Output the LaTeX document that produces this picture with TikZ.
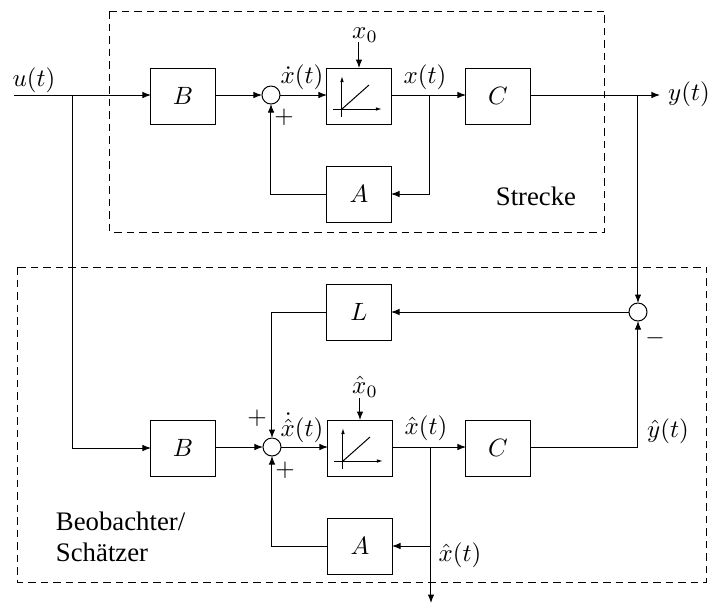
\documentclass[tikz,border=0pt]{standalone}
\usepackage{amsmath,amssymb}
\usepackage{fontspec}
\setmainfont{Liberation Serif}
\usetikzlibrary{arrows.meta,calc}
\tikzset{
  block/.style={draw,minimum width=25.6pt,minimum height=22.4pt,inner sep=0pt,outer sep=0pt},
  sumnode/.style={draw,circle,minimum size=7.2pt,inner sep=0pt,outer sep=0pt},
  sig/.style={-{Latex[length=3.4pt,width=2.6pt]}},
  axis/.style={-{Latex[length=2.4pt,width=1.4pt]},thin},
  frame/.style={dash pattern=on 3pt off 2pt,thin},
  lbl/.style={inner sep=0pt,outer sep=0pt},
  txt/.style={lbl,font=\fontsize{10.7}{12.4}\selectfont}
}
\newcommand{\rampicon}[1]{%
  \draw[axis] ($(#1)+(-17,21)$) -- ($(#1)+(-17,-20)$);
  \draw[axis] ($(#1)+(-26,13)$) -- ($(#1)+(23,13)$);
  \draw[thin] ($(#1)+(-17,13)$) -- ($(#1)+(10,-11)$);
}
\begin{document}
\begin{tikzpicture}[x=0.4pt,y=-0.4pt]
  \useasboundingbox (0,0) rectangle (709,603);
  % frames
  \draw[frame] (110,11) rectangle (605,232);
  \draw[frame] (18,267) rectangle (707,582);
  % plant
  \node[block] (bup) at (183,96) {$B$};
  \node[sumnode] (sumup) at (271,95) {};
  \node[block] (intup) at (359,96) {};
  \node[block] (cup) at (498,96) {$C$};
  \node[block] (aup) at (359,194) {$A$};
  \rampicon{intup}
  % observer
  \node[block] (llow) at (359,312) {$L$};
  \node[sumnode] (sumy) at (638,312) {};
  \node[block] (blow) at (183,448) {$B$};
  \node[sumnode] (sumlow) at (272,447) {};
  \node[block] (intlow) at (360,448) {};
  \node[block] (clow) at (498,448) {$C$};
  \node[block] (alow) at (360,546) {$A$};
  \rampicon{intlow}
  % free ends and branch points
  \coordinate (uin) at (14,95);
  \coordinate (ubr) at (73,95);
  \coordinate (xbrup) at (430,95);
  \coordinate (ybr) at (638,95);
  \coordinate (yout) at (660,95);
  \coordinate (xbrlow) at (431,447);
  \coordinate (xout) at (431,603);
  % labels
  \node[lbl] (ulab) at (34,80) {$u(t)$};
  \node[lbl] (xnull) at (365,35) {$x_0$};
  \node[lbl] (xdot) at (302,77) {$\dot{x}(t)$};
  \node[lbl] (xlab) at (425,77) {$x(t)$};
  \node[lbl] (ylab) at (689,94) {$y(t)$};
  \node[lbl] (plusa) at (284,117) {$+$};
  \node[txt] (strecke) at (536,196) {Strecke};
  \node[lbl] (xhnull) at (365,387) {$\hat{x}_0$};
  \node[lbl] (xhdot) at (302,428) {$\dot{\hat{x}}(t)$};
  \node[lbl] (xhlab) at (426,428) {$\hat{x}(t)$};
  \node[lbl] (yhlab) at (668,431) {$\hat{y}(t)$};
  \node[lbl] (xhout) at (460,555) {$\hat{x}(t)$};
  \node[lbl] (plusb) at (257,418) {$+$};
  \node[lbl] (plusc) at (285,470) {$+$};
  \node[lbl] (minus) at (655,338) {$-$};
  \node[txt,align=left,anchor=west] (beob) at (56,537) {Beobachter/\\Schätzer};
  % plant signals
  \draw[sig] (uin) -- (ubr) -- (uin -| bup.west);
  \draw[sig] (bup.east |- sumup) -- (sumup);
  \draw[sig] (sumup) -- (intup.west |- sumup);
  \draw[sig] (xnull.south -| intup) -- (intup.north);
  \draw[sig] (intup.east |- xbrup) -- (cup.west |- xbrup);
  \draw[sig] (xbrup) |- (aup.east);
  \draw[sig] (aup.west) -| (sumup.south);
  \draw[sig] (cup.east |- yout) -- (yout);
  % observer signals
  \draw[sig] (ybr) -- (sumy);
  \draw[sig] (sumy) -- (llow.east);
  \draw[sig] (llow.west) -| (sumlow.north);
  \draw[sig] (ubr) |- (blow.west);
  \draw[sig] (blow.east |- sumlow) -- (sumlow);
  \draw[sig] (sumlow) -- (intlow.west |- sumlow);
  \draw[sig] (xhnull.south -| intlow) -- (intlow.north);
  \draw[sig] (intlow.east |- xbrlow) -- (clow.west |- xbrlow);
  \draw[sig] (clow.east |- xbrlow) -| (sumy.south);
  \draw[sig] (xbrlow) -- (xout);
  \draw[sig] (xbrlow |- alow) -- (alow.east);
  \draw[sig] (alow.west) -| (sumlow.south);
\end{tikzpicture}
\end{document}
